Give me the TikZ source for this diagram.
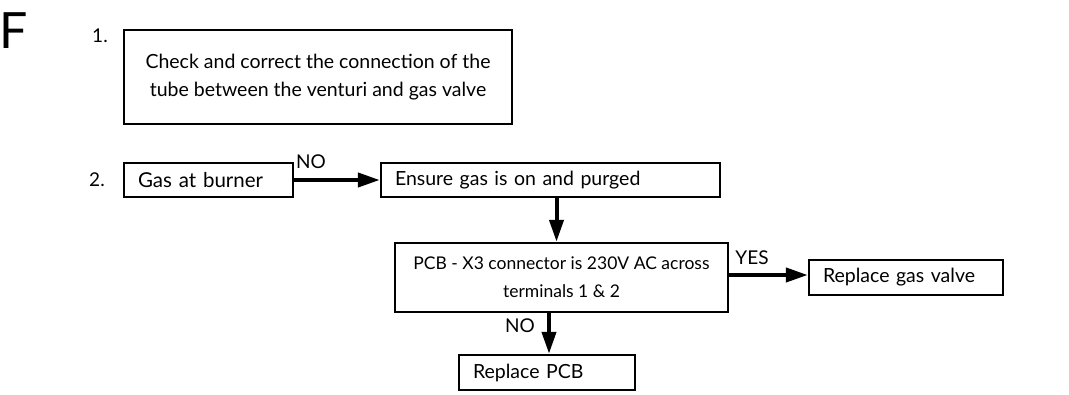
\documentclass[tikz,border=0pt]{standalone}
\usepackage{fontspec}
\setmainfont{Lato}
\usetikzlibrary{arrows.meta}
\begin{document}
\begin{tikzpicture}[x=1pt,y=-1pt,
  box/.style={draw=black,line width=2.4pt,inner sep=0pt,font=\fontsize{19.5}{28}\selectfont},
  lbox/.style={box,align=left,inner xsep=14pt},
  arr/.style={line width=4pt,-{Triangle[length=22pt,width=14pt]}},
  lab/.style={font=\fontsize{19}{20}\selectfont,inner sep=0pt}]
\useasboundingbox (0,0) rectangle (1069,394);
\node[font=\fontsize{50}{50}\selectfont,inner sep=0pt] (F) at (14,31) {F};
\node[lab] (n1) at (100,36) {1.};
\node[lab] (n2) at (97,180) {2.};
\node[box,align=center,minimum width=388pt,minimum height=94pt] (b1) at (318,77)
  {Check and correct the connection of the\\tube between the venturi and gas valve};
\node[lbox,text width=141pt,minimum height=34pt,font=\fontsize{20.5}{28}\selectfont] (gas) at (208.5,180) {Gas at burner};
\node[lbox,text width=311pt,minimum height=34pt] (ens) at (550.5,180) {Ensure gas is on and purged};
\node[box,align=center,minimum width=333pt,minimum height=69pt,font=\fontsize{17.5}{28}\selectfont] (pcb) at (561.5,277.5)
  {PCB - X3 connector is 230V AC across\\terminals 1 \& 2};
\node[lbox,text width=166pt,minimum height=35pt] (valve) at (906,277.5) {Replace gas valve};
\node[lbox,text width=148pt,minimum height=35pt] (rpcb) at (547,372.5) {Replace PCB};
\draw[arr] (gas.east) -- (ens.west);
\draw[arr] ([xshift=6pt]ens.south) -- ([xshift=6pt]ens.south |- pcb.north);
\draw[arr] ([yshift=2.5pt]pcb.east) -- ([yshift=2.5pt]pcb.east -| valve.west);
\draw[arr] ([xshift=-12.5pt]pcb.south) -- ([xshift=-12.5pt]pcb.south |- rpcb.north);
\node[lab] (no1) at (311,162) {NO};
\node[lab] (yes) at (752,258) {YES};
\node[lab] (no2) at (520,326) {NO};
\end{tikzpicture}
\end{document}
